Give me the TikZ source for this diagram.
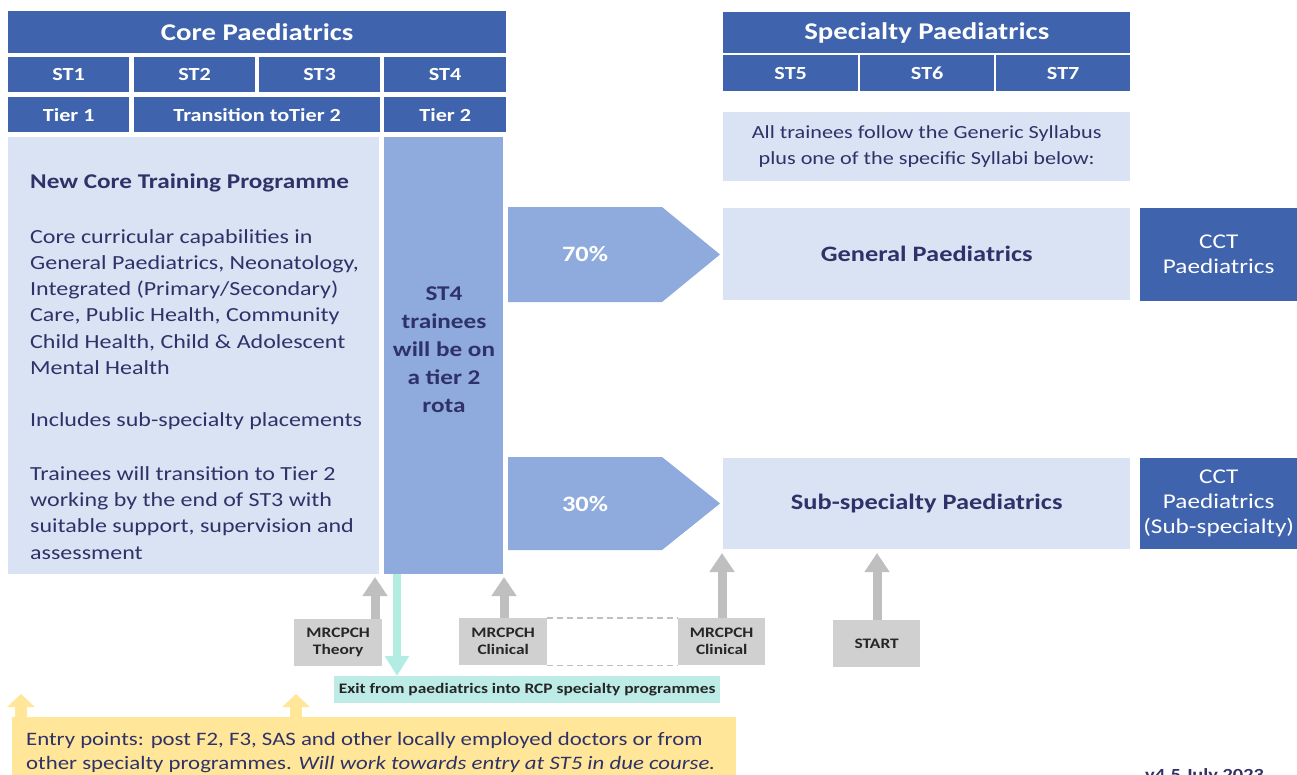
\documentclass[tikz,border=0pt]{standalone}
\usepackage{fontspec}
\setmainfont[FakeStretch=1.2]{Carlito}
\usetikzlibrary{arrows.meta}

\definecolor{hdrblue}{RGB}{63,99,173}
\definecolor{midblue}{RGB}{143,170,220}
\definecolor{paleblue}{RGB}{218,227,243}
\definecolor{navy}{RGB}{47,50,105}
\definecolor{examgrey}{RGB}{208,208,208}
\definecolor{arrowgrey}{RGB}{191,191,191}
\definecolor{exitteal}{RGB}{189,236,230}
\definecolor{exitarrow}{RGB}{178,236,226}
\definecolor{entryyellow}{RGB}{255,230,153}

\newcommand{\fs}[2]{\fontsize{#1}{#2}\selectfont}

\tikzset{
  box/.style={anchor=north west, inner sep=0pt, align=center},
  hdrbox/.style={box, fill=hdrblue, text=white, font=\bfseries\fs{18.5}{22}},
  palebox/.style={box, fill=paleblue, text=navy},
  exambox/.style={box, fill=examgrey, text=black!85, font=\bfseries\fs{14.5}{17}},
  examarrow/.style={draw=arrowgrey, line width=9pt,
    -{Triangle[width=24pt, length=19pt]}},
  entryarrow/.style={draw=entryyellow, line width=12pt,
    -{Triangle[width=27pt, length=13pt]}},
}

\begin{document}
\begin{tikzpicture}[x=1pt, y=-1pt]
\useasboundingbox (0,0) rectangle (1297,774);

% core paediatrics header
\node[hdrbox, minimum width=498, minimum height=42, font=\bfseries\fs{24}{28}] (core) at (8,11) {Core Paediatrics};
\node[hdrbox, minimum width=121, minimum height=35] (st1) at (8,57) {ST1};
\node[hdrbox, minimum width=121, minimum height=35] (st2) at (134,57) {ST2};
\node[hdrbox, minimum width=121, minimum height=35] (st3) at (259,57) {ST3};
\node[hdrbox, minimum width=122, minimum height=35] (st4) at (384,57) {ST4};
\node[hdrbox, minimum width=121, minimum height=35] (tier1) at (8,97) {Tier 1};
\node[hdrbox, minimum width=246, minimum height=35] (trans) at (134,97) {Transition toTier 2};
\node[hdrbox, minimum width=122, minimum height=35] (tier2) at (384,97) {Tier 2};

% core programme and ST4 column
\node[palebox, minimum width=371, minimum height=437] (corebox) at (8,137) {};
\node[box, fill=midblue, minimum width=119, minimum height=437] (st4col) at (384,137) {};
\node[text=navy, font=\bfseries\fs{21}{26}, anchor=west, inner sep=0pt] (newcore) at (30,183) {New Core Training Programme};
\node[text=navy, font=\fs{20}{26.2}, anchor=west, align=left, inner sep=0pt] (capab) at (30,302)
  {Core curricular capabilities in\\General Paediatrics, Neonatology,\\Integrated (Primary/Secondary)\\Care, Public Health, Community\\Child Health, Child \& Adolescent\\Mental Health};
\node[text=navy, font=\fs{20}{26.2}, anchor=west, inner sep=0pt] (placem) at (30,421) {Includes sub-specialty placements};
\node[text=navy, font=\fs{20}{26.2}, anchor=west, align=left, inner sep=0pt] (transit) at (30,513)
  {Trainees will transition to Tier 2\\working by the end of ST3 with\\suitable support, supervision and\\assessment};
\node[text=navy, font=\bfseries\fs{21}{28}, align=center, inner sep=0pt] (st4rota) at (444,350)
  {ST4\\trainees\\will be on\\a tier 2\\rota};

% specialty paediatrics header
\node[hdrbox, minimum width=407, minimum height=41, font=\bfseries\fs{24}{28}] (spec) at (723,12) {Specialty Paediatrics};
\node[hdrbox, minimum width=135, minimum height=36] (st5) at (723,55) {ST5};
\node[hdrbox, minimum width=134, minimum height=36] (st6) at (860,55) {ST6};
\node[hdrbox, minimum width=134, minimum height=36] (st7) at (996,55) {ST7};
\node[palebox, minimum width=407, minimum height=69, font=\fs{18.5}{26}] (syllabi) at (723,112)
  {All trainees follow the Generic Syllabus\\plus one of the specific Syllabi below:};

% the two routes
\fill[midblue] (508,207) -- (662,207) -- (720,254.5) -- (662,302) -- (508,302) -- cycle;
\node[text=white, font=\bfseries\fs{22}{24}] (pct70) at (585,254) {70\%};
\fill[midblue] (508,457) -- (662,457) -- (720,503.5) -- (662,550) -- (508,550) -- cycle;
\node[text=white, font=\bfseries\fs{22}{24}] (pct30) at (585,504) {30\%};
\node[palebox, minimum width=407, minimum height=92, font=\bfseries\fs{22}{26}] (gen) at (723,208) {General Paediatrics};
\node[palebox, minimum width=407, minimum height=91, font=\bfseries\fs{22}{26}] (sub) at (723,458) {Sub-specialty Paediatrics};
\node[box, fill=hdrblue, text=white, minimum width=157, minimum height=93, font=\fs{21}{25}] (cctgen) at (1140,208) {CCT\\Paediatrics};
\node[box, fill=hdrblue, text=white, minimum width=157, minimum height=91, font=\fs{21}{25}] (cctsub) at (1140,458) {CCT\\Paediatrics\\(Sub-specialty)};

% exams and entry
\node[exambox, minimum width=88, minimum height=47] (theory) at (294,619) {MRCPCH\\Theory};
\node[exambox, minimum width=88, minimum height=47] (clin1) at (459,618) {MRCPCH\\Clinical};
\node[exambox, minimum width=87, minimum height=47] (clin2) at (678,618) {MRCPCH\\Clinical};
\node[exambox, minimum width=87, minimum height=47] (start) at (833,620) {START};
\draw[arrowgrey, line width=1.2pt, dash pattern=on 6pt off 4pt] (clin1.north east) -- (clin2.north west)
  (clin1.south east) -- (clin2.south west);

\coordinate (theoryin) at (375,577);
\coordinate (clin1in) at (504,577);
\coordinate (clin2in) at (722,553);
\coordinate (startin) at (877,553);
\draw[examarrow] (theory.north -| theoryin) -- (theoryin);
\draw[examarrow] (clin1.north -| clin1in) -- (clin1in);
\draw[examarrow] (clin2.north -| clin2in) -- (clin2in);
\draw[examarrow] (start.north -| startin) -- (startin);

% exit route
\node[box, fill=exitteal, text=black!85, minimum width=386, minimum height=27, font=\bfseries\fs{14.5}{17}] (exit) at (334,676) {Exit from paediatrics into RCP specialty programmes};
\draw[exitarrow, line width=8pt, -{Triangle[width=23pt, length=20pt]}] (st4col.south -| 397,0) -- (exit.north -| 397,0);

% entry points
\node[box, fill=entryyellow, minimum width=724, minimum height=70] (entry) at (12,717) {};
\node[text=navy, anchor=north west, align=left, inner sep=0pt, font=\fs{19}{24}] (entrytext) at (26,732)
  {Entry points: post F2, F3, SAS and other locally employed doctors or from\\other specialty programmes. \textit{Will work towards entry at ST5 in due course.}};
\draw[entryarrow] (entry.north -| 21,0) -- (21,694);
\draw[entryarrow] (entry.north -| 296,0) -- (296,694);

\node[text=navy, font=\bfseries\fs{17}{20}, anchor=west, inner sep=0pt] (version) at (1145,776) {v4.5 July 2023};

\end{tikzpicture}
\end{document}
